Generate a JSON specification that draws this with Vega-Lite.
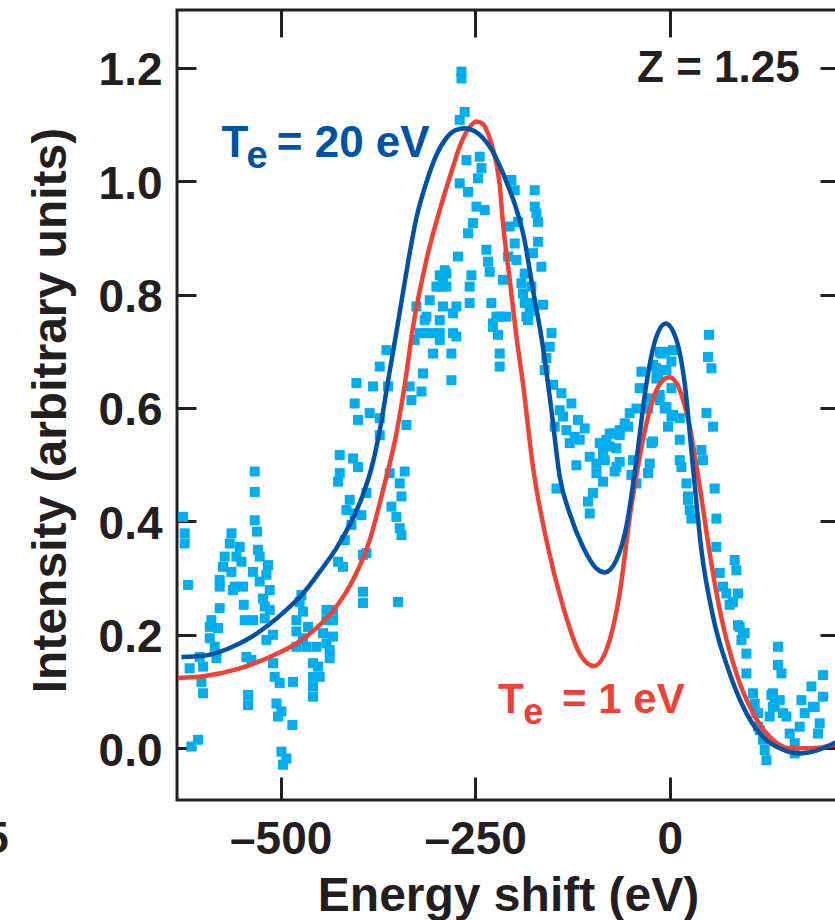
{
  "$schema": "https://vega.github.io/schema/vega-lite/v6.json",
  "width": 662,
  "height": 790,
  "autosize": {"type": "none"},
  "padding": {"left": 177, "top": 10, "right": 0, "bottom": 120},
  "background": "white",
  "config": {
    "view": {"stroke": "#231f20", "strokeWidth": 3},
    "font": "Liberation Sans",
    "axis": {"grid": false, "domain": false, "tickColor": "#231f20", "tickWidth": 3}
  },
  "resolve": {"axis": {"x": "independent", "y": "independent"}},
  "datasets": {
    "points": [
      {"e":-625.6,"i":0.408},{"e":-623.4,"i":0.379},{"e":-623.4,"i":0.361},{"e":-619.1,"i":0.288},{"e":-617,"i":0.141},
      {"e":-604.1,"i":0.161},{"e":-601.9,"i":0.117},{"e":-599.8,"i":0.097},{"e":-614.8,"i":0.003},{"e":-606.3,"i":0.015},
      {"e":-563.3,"i":0.379},{"e":-565.5,"i":0.361},{"e":-552.7,"i":0.355},{"e":-572,"i":0.338},{"e":-556.9,"i":0.338},
      {"e":-550.5,"i":0.329},{"e":-574.1,"i":0.32},{"e":-563.3,"i":0.311},{"e":-578.4,"i":0.297},{"e":-578.4,"i":0.285},
      {"e":-559.1,"i":0.285},{"e":-548.4,"i":0.285},{"e":-561.3,"i":0.279},{"e":-589.1,"i":0.226},{"e":-591.2,"i":0.214},
      {"e":-580.6,"i":0.212},{"e":-578.4,"i":0.247},{"e":-591.2,"i":0.194},{"e":-584.8,"i":0.179},{"e":-582.6,"i":0.159},
      {"e":-599.8,"i":0.144},{"e":-547.5,"i":0.253},{"e":-546.3,"i":0.226},{"e":-535.6,"i":0.226},{"e":-544.1,"i":0.161},
      {"e":-537.6,"i":0.156},{"e":-542,"i":0.094},{"e":-542,"i":0.076},{"e":-533.4,"i":0.488},{"e":-533.4,"i":0.452},
      {"e":-533.4,"i":0.402},{"e":-530.4,"i":0.382},{"e":-529.2,"i":0.35},{"e":-527,"i":0.338},{"e":-535.6,"i":0.311},
      {"e":-527,"i":0.294},{"e":-516.3,"i":0.323},{"e":-518.4,"i":0.306},{"e":-514.1,"i":0.279},{"e":-522.7,"i":0.264},
      {"e":-520.5,"i":0.25},{"e":-514.1,"i":0.244},{"e":-520.5,"i":0.229},{"e":-509.9,"i":0.2},{"e":-518.4,"i":0.191},
      {"e":-509.9,"i":0.15},{"e":-507.7,"i":0.126},{"e":-501.3,"i":0.115},{"e":-505.5,"i":0.079},{"e":-499.1,"i":0.065},
      {"e":-503.4,"i":0.056},{"e":-484.2,"i":0.117},{"e":-485,"i":0.041},{"e":-499.1,"i":-0.006},{"e":-492.7,"i":-0.018},
      {"e":-497,"i":-0.029},{"e":-473.4,"i":0.27},{"e":-475.6,"i":0.258},{"e":-471.3,"i":0.241},{"e":-479.8,"i":0.226},
      {"e":-479.8,"i":0.206},{"e":-464.9,"i":0.214},{"e":-471.3,"i":0.194},{"e":-479.8,"i":0.179},{"e":-467,"i":0.179},
      {"e":-454.1,"i":0.179},{"e":-458.5,"i":0.15},{"e":-452,"i":0.144},{"e":-458.5,"i":0.126},{"e":-449.9,"i":0.126},
      {"e":-458.5,"i":0.109},{"e":-458.5,"i":0.091},{"e":-441.2,"i":0.244},{"e":-432.8,"i":0.244},{"e":-441.2,"i":0.226},
      {"e":-432.8,"i":0.226},{"e":-445.6,"i":0.203},{"e":-432.8,"i":0.197},{"e":-441.2,"i":0.185},{"e":-437,"i":0.173},
      {"e":-437,"i":0.159},{"e":-424.1,"i":0.517},{"e":-424.1,"i":0.485},{"e":-426.3,"i":0.47},{"e":-407,"i":0.511},
      {"e":-400.6,"i":0.496},{"e":-411.3,"i":0.438},{"e":-415.5,"i":0.42},{"e":-404.9,"i":0.414},{"e":-396.3,"i":0.411},
      {"e":-409.1,"i":0.394},{"e":-417.7,"i":0.367},{"e":-426.3,"i":0.329},{"e":-419.9,"i":0.32},{"e":-389.8,"i":0.45},
      {"e":-394.2,"i":0.341},{"e":-394.2,"i":0.276},{"e":-394.2,"i":0.256},{"e":-404.9,"i":0.608},{"e":-400.6,"i":0.579},
      {"e":-385.6,"i":0.591},{"e":-372.7,"i":0.582},{"e":-372.7,"i":0.552},{"e":-402.7,"i":0.644},{"e":-381.3,"i":0.638},
      {"e":-362.1,"i":0.638},{"e":-359.9,"i":0.485},{"e":-347,"i":0.467},{"e":-344.8,"i":0.444},{"e":-357.7,"i":0.426},
      {"e":-351.3,"i":0.408},{"e":-347,"i":0.388},{"e":-344.8,"i":0.376},{"e":-340.6,"i":0.488},{"e":-338.4,"i":0.57},
      {"e":-332,"i":0.614},{"e":-319.1,"i":0.629},{"e":-280.6,"i":0.649},{"e":-389.8,"i":0.344},{"e":-349.2,"i":0.258},
      {"e":-364.1,"i":0.702},{"e":-372.7,"i":0.673},{"e":-334.2,"i":0.638},{"e":-317.1,"i":0.661},{"e":-327.8,"i":0.72},
      {"e":-308.5,"i":0.79},{"e":-295.6,"i":0.814},{"e":-287,"i":0.837},{"e":-291.4,"i":0.82},{"e":-312.7,"i":0.761},
      {"e":-321.3,"i":0.732},{"e":-304.2,"i":0.732},{"e":-295.6,"i":0.72},{"e":-304.2,"i":0.696},{"e":-278.5,"i":0.767},
      {"e":-278.5,"i":0.732},{"e":-280.6,"i":0.696},{"e":-272.1,"i":0.867},{"e":-269.9,"i":0.996},{"e":-269.9,"i":1.108},
      {"e":-267.7,"i":1.193},{"e":-267.7,"i":1.181},{"e":-263.5,"i":1.122},{"e":-261.3,"i":1.037},{"e":-244.2,"i":1.043},
      {"e":-242,"i":1.023},{"e":-259.2,"i":0.981},{"e":-246.4,"i":1.005},{"e":-248.4,"i":0.955},{"e":-237.8,"i":0.949},
      {"e":-252.8,"i":0.926},{"e":-259.2,"i":0.908},{"e":-235.6,"i":0.879},{"e":-233.5,"i":0.858},{"e":-231.4,"i":0.84},
      {"e":-254.9,"i":0.834},{"e":-257.1,"i":0.814},{"e":-295.6,"i":0.834},{"e":-289.2,"i":0.843},{"e":-299.9,"i":0.814},
      {"e":-287,"i":0.814},{"e":-257.1,"i":0.785},{"e":-274.2,"i":0.779},{"e":-291.4,"i":0.779},{"e":-325.6,"i":0.779},
      {"e":-314.9,"i":0.755},{"e":-295.6,"i":0.755},{"e":-229.2,"i":0.785},{"e":-218.5,"i":0.761},{"e":-227.1,"i":0.749},
      {"e":-209.9,"i":0.761},{"e":-274.2,"i":0.726},{"e":-312.7,"i":0.732},{"e":-295.6,"i":0.732},{"e":-214.3,"i":0.826},
      {"e":-207.8,"i":0.867},{"e":-197,"i":0.861},{"e":-199.2,"i":0.89},{"e":-205.6,"i":0.92},{"e":-195,"i":0.928},
      {"e":-203.5,"i":1.002},{"e":-199.2,"i":0.984},{"e":-173.5,"i":0.984},{"e":-173.5,"i":0.955},{"e":-171.3,"i":0.943},
      {"e":-169.3,"i":0.928},{"e":-169.3,"i":0.893},{"e":-175.7,"i":0.873},{"e":-164.9,"i":0.849},{"e":-186.4,"i":0.837},
      {"e":-190.6,"i":0.82},{"e":-177.8,"i":0.814},{"e":-188.6,"i":0.802},{"e":-186.4,"i":0.785},{"e":-162.8,"i":0.782},
      {"e":-179.9,"i":0.77},{"e":-182.1,"i":0.755},{"e":-152,"i":0.732},{"e":-222.7,"i":0.761},{"e":-227.1,"i":0.743},
      {"e":-220.7,"i":0.729},{"e":-218.5,"i":0.696},{"e":-218.5,"i":0.673},{"e":-179.9,"i":0.785},{"e":-184.2,"i":0.761},
      {"e":-154.2,"i":0.708},{"e":-158.5,"i":0.688},{"e":-160.7,"i":0.667},{"e":-150,"i":0.641},{"e":-139.2,"i":0.626},
      {"e":-141.4,"i":0.596},{"e":-126.3,"i":0.608},{"e":-137.1,"i":0.585},{"e":-147.8,"i":0.567},{"e":-132.8,"i":0.561},
      {"e":-117.9,"i":0.579},{"e":-109.3,"i":0.564},{"e":-122.1,"i":0.549},{"e":-128.5,"i":0.538},{"e":-115.7,"i":0.544},
      {"e":-145.6,"i":0.458},{"e":-119.9,"i":0.499},{"e":-102.8,"i":0.514},{"e":-90,"i":0.538},{"e":-77.1,"i":0.555},
      {"e":-64.3,"i":0.552},{"e":-53.6,"i":0.567},{"e":-51.4,"i":0.591},{"e":-94.2,"i":0.502},{"e":-85.7,"i":0.514},
      {"e":-77.1,"i":0.532},{"e":-68.5,"i":0.496},{"e":-94.2,"i":0.485},{"e":-85.7,"i":0.47},{"e":-98.6,"i":0.45},
      {"e":-105,"i":0.435},{"e":-102.8,"i":0.414},{"e":-47.2,"i":0.508},{"e":-49.2,"i":0.482},{"e":-42.8,"i":0.467},
      {"e":-36.4,"i":0.664},{"e":-38.6,"i":0.635},{"e":-29.9,"i":0.599},{"e":-27.9,"i":0.617},{"e":-21.5,"i":0.541},
      {"e":-25.7,"i":0.502},{"e":-27.9,"i":0.485},{"e":-21.5,"i":0.676},{"e":-17.1,"i":0.652},{"e":-10.7,"i":0.696},
      {"e":-6.4,"i":0.667},{"e":-12.9,"i":0.614},{"e":2.2,"i":0.682},{"e":2.2,"i":0.635},{"e":-6.4,"i":0.599},
      {"e":4.2,"i":0.588},{"e":-2.2,"i":0.567},{"e":12.9,"i":0.582},{"e":12.9,"i":0.544},{"e":12.9,"i":0.508},
      {"e":15,"i":0.496},{"e":21.5,"i":0.467},{"e":23.5,"i":0.438},{"e":27.9,"i":0.405},{"e":40.7,"i":0.526},
      {"e":42.8,"i":0.508},{"e":47.2,"i":0.591},{"e":55.7,"i":0.567},{"e":50.5,"i":0.729},{"e":49.2,"i":0.69},
      {"e":53.6,"i":0.67},{"e":57.8,"i":0.458},{"e":60,"i":0.405},{"e":60,"i":0.355},{"e":64.3,"i":0.309},
      {"e":68.5,"i":0.285},{"e":72.9,"i":0.273},{"e":83.5,"i":0.332},{"e":85.7,"i":0.314},{"e":87.8,"i":0.273},
      {"e":81.4,"i":0.258},{"e":90,"i":0.214},{"e":96.4,"i":0.203},{"e":92.2,"i":0.191},{"e":98.6,"i":0.167},
      {"e":98.6,"i":0.132},{"e":107.1,"i":0.097},{"e":109.3,"i":0.079},{"e":113.5,"i":0.062},{"e":115.7,"i":0.032},
      {"e":119.9,"i":0.015},{"e":122.1,"i":-0.003},{"e":124.3,"i":-0.021},{"e":132.8,"i":0.097},{"e":132.8,"i":0.073},
      {"e":141.4,"i":0.085},{"e":145.6,"i":0.062},{"e":139.2,"i":0.179},{"e":139.2,"i":0.147},{"e":143.6,"i":0.132},
      {"e":154.2,"i":0.026},{"e":160.7,"i":0.009},{"e":169.3,"i":0.085},{"e":173.5,"i":0.062},{"e":182.1,"i":0.109},
      {"e":186.4,"i":0.073},{"e":192.8,"i":0.044},{"e":197,"i":0.129},{"e":197,"i":0.091},{"e":77.1,"i":0.253},
      {"e":87.8,"i":0.217},{"e":94.2,"i":0.203},{"e":111.4,"i":0.062},{"e":113.5,"i":0.038},{"e":130.7,"i":0.094},
      {"e":135,"i":0.079},{"e":128.5,"i":0.056},{"e":150,"i":0.056},{"e":160.7,"i":-0.009},{"e":167.1,"i":0.038},
      {"e":184.2,"i":0.073},{"e":190.6,"i":0.026},{"e":-12.9,"i":0.699},{"e":-6.4,"i":0.699},{"e":4.2,"i":0.702},
      {"e":-17.1,"i":0.67},{"e":-4.2,"i":0.667},{"e":-15,"i":0.655},{"e":-12.9,"i":0.623},{"e":-4.2,"i":0.602},
      {"e":2.2,"i":0.585},{"e":-23.5,"i":0.538},{"e":23.5,"i":0.444},{"e":25.7,"i":0.42},{"e":-57.8,"i":0.573},
      {"e":-64.3,"i":0.561},{"e":-72.9,"i":0.555},{"e":-81.4,"i":0.544},{"e":-85.7,"i":0.526},{"e":-68.5,"i":0.529},
      {"e":-64.3,"i":0.505},{"e":-83.5,"i":0.508},{"e":-70.7,"i":0.488},{"e":-42.8,"i":0.599},{"e":-27.9,"i":0.599}
    ],
    "blue": [
      {"e":-627.6,"i":0.161},{"e":-599.8,"i":0.163},{"e":-578.4,"i":0.17},{"e":-557,"i":0.182},{"e":-535.6,"i":0.198},
      {"e":-514.1,"i":0.219},{"e":-492.7,"i":0.244},{"e":-471.3,"i":0.273},{"e":-449.9,"i":0.311},{"e":-428.4,"i":0.353},
      {"e":-407,"i":0.406},{"e":-394.2,"i":0.447},{"e":-381.3,"i":0.505},{"e":-371.4,"i":0.57},{"e":-362.5,"i":0.644},
      {"e":-355.6,"i":0.699},{"e":-347,"i":0.769},{"e":-338.4,"i":0.84},{"e":-325.6,"i":0.935},{"e":-312.7,"i":0.998},
      {"e":-299.9,"i":1.046},{"e":-287,"i":1.076},{"e":-275,"i":1.09},{"e":-263.5,"i":1.093},{"e":-250.6,"i":1.088},
      {"e":-240,"i":1.076},{"e":-228.8,"i":1.055},{"e":-218.5,"i":1.027},{"e":-208.2,"i":0.993},{"e":-197.9,"i":0.954},
      {"e":-187.7,"i":0.903},{"e":-175.7,"i":0.808},{"e":-163.9,"i":0.716},{"e":-152,"i":0.596},{"e":-141.4,"i":0.479},
      {"e":-128.5,"i":0.414},{"e":-111.4,"i":0.355},{"e":-94.2,"i":0.317},{"e":-83.5,"i":0.31},{"e":-68.5,"i":0.332},
      {"e":-55.7,"i":0.391},{"e":-42.8,"i":0.508},{"e":-29.9,"i":0.643},{"e":-17.1,"i":0.726},{"e":-5.1,"i":0.749},
      {"e":8.6,"i":0.72},{"e":19.3,"i":0.643},{"e":29.9,"i":0.496},{"e":40.7,"i":0.35},{"e":55.7,"i":0.232},
      {"e":77.1,"i":0.132},{"e":98.6,"i":0.062},{"e":119.9,"i":0.02},{"e":141.4,"i":0.0},{"e":167.1,"i":-0.009},
      {"e":188.5,"i":-0.004},{"e":217.2,"i":0.013}
    ],
    "red": [
      {"e":-632,"i":0.124},{"e":-599.8,"i":0.127},{"e":-557,"i":0.139},{"e":-514.1,"i":0.161},{"e":-479.8,"i":0.185},
      {"e":-454.1,"i":0.212},{"e":-428.4,"i":0.25},{"e":-407,"i":0.297},{"e":-385.6,"i":0.367},{"e":-368.5,"i":0.455},
      {"e":-351.3,"i":0.555},{"e":-340.6,"i":0.641},{"e":-329.9,"i":0.743},{"e":-312.7,"i":0.861},{"e":-295.6,"i":0.949},
      {"e":-278.5,"i":1.025},{"e":-269.9,"i":1.061},{"e":-259.6,"i":1.09},{"e":-248.4,"i":1.105},{"e":-240.4,"i":1.101},
      {"e":-233.5,"i":1.084},{"e":-227.5,"i":1.058},{"e":-222.7,"i":1.031},{"e":-218.5,"i":0.993},{"e":-214.3,"i":0.926},
      {"e":-205.6,"i":0.826},{"e":-197,"i":0.726},{"e":-188.6,"i":0.643},{"e":-175.7,"i":0.496},{"e":-158.5,"i":0.367},
      {"e":-137.1,"i":0.25},{"e":-115.7,"i":0.167},{"e":-97.3,"i":0.145},{"e":-77.1,"i":0.191},{"e":-64.3,"i":0.273},
      {"e":-51.4,"i":0.408},{"e":-38.6,"i":0.514},{"e":-25.7,"i":0.596},{"e":-10.7,"i":0.646},{"e":0,"i":0.654},
      {"e":12.9,"i":0.632},{"e":25.7,"i":0.567},{"e":38.6,"i":0.461},{"e":51.4,"i":0.344},{"e":64.3,"i":0.244},
      {"e":85.7,"i":0.132},{"e":107.1,"i":0.062},{"e":128.5,"i":0.02},{"e":154.2,"i":0.0},{"e":184.2,"i":0.0},
      {"e":217.2,"i":0.008}
    ]
  },
  "layer": [
    {
      "data": {"name": "points"},
      "mark": {"type": "square", "size": 100, "color": "#00aeef", "opacity": 1, "filled": true},
      "encoding": {
        "x": {
          "field": "e", "type": "quantitative",
          "scale": {"domain": [-633.3, 217.6], "nice": false, "zero": false},
          "axis": {
            "orient": "bottom", "values": [-500, -250, 0], "tickSize": -23,
            "labelFont": "Liberation Sans", "labelFontSize": 46, "labelFontWeight": "bold", "labelColor": "#231f20",
            "labelBaseline": "alphabetic", "labelPadding": 76, "labelFlush": false, "labelOverlap": false,
            "labelExpr": "datum.value < 0 ? '\u2013' + (-datum.value) + '\u00a0\u00a0' : '0'",
            "title": "Energy shift (eV)", "titleFont": "Liberation Sans", "titleFontSize": 48, "titleFontWeight": "bold",
            "titleColor": "#231f20", "titleX": 331, "titleY": 110, "titleBaseline": "alphabetic", "titleAlign": "center"
          }
        },
        "y": {
          "field": "i", "type": "quantitative",
          "scale": {"domain": [-0.0912, 1.3017], "nice": false, "zero": false},
          "axis": {
            "orient": "left", "values": [0, 0.2, 0.4, 0.6, 0.8, 1.0, 1.2], "format": ".1f", "tickSize": -19,
            "labelFont": "Liberation Sans", "labelFontSize": 46, "labelFontWeight": "bold", "labelColor": "#231f20",
            "labelPadding": 34, "labelOffset": 3, "labelFlush": false, "labelOverlap": false,
            "title": "Intensity (arbitrary units)", "titleFont": "Liberation Sans", "titleFontSize": 48, "titleFontWeight": "bold",
            "titleColor": "#231f20", "titleX": -112, "titleY": 400, "titleAngle": -90, "titleBaseline": "alphabetic", "titleAlign": "center"
          }
        }
      }
    },
    {
      "data": {"name": "red"},
      "mark": {"type": "line", "color": "#ef4136", "strokeWidth": 4.5, "interpolate": "monotone"},
      "encoding": {
        "x": {"field": "e", "type": "quantitative", "scale": {"domain": [-633.3, 217.6], "nice": false, "zero": false}, "axis": null},
        "y": {"field": "i", "type": "quantitative", "scale": {"domain": [-0.0912, 1.3017], "nice": false, "zero": false}, "axis": null}
      }
    },
    {
      "data": {"name": "blue"},
      "mark": {"type": "line", "color": "#0053a4", "strokeWidth": 4.5, "interpolate": "monotone"},
      "encoding": {
        "x": {"field": "e", "type": "quantitative", "scale": {"domain": [-633.3, 217.6], "nice": false, "zero": false},
          "axis": {"orient": "top", "values": [-500, -250, 0], "tickSize": -27, "labels": false, "title": null}},
        "y": {"field": "i", "type": "quantitative", "scale": {"domain": [-0.0912, 1.3017], "nice": false, "zero": false},
          "axis": {"orient": "right", "values": [0, 0.2, 0.4, 0.6, 0.8, 1.0, 1.2], "tickSize": -19, "labels": false, "title": null}}
      }
    },
    {
      "data": {"values": [{"e": -576.2, "i": 1.043, "t": "T"}, {"e": -220.7, "i": 0.0617, "t": "T"}]},
      "transform": [{"filter": "datum.i > 0.5"}],
      "mark": {"type": "text", "align": "left", "baseline": "alphabetic", "fontSize": 44, "fontWeight": "bold", "font": "Liberation Sans", "color": "#0053a4"},
      "encoding": {
        "x": {"field": "e", "type": "quantitative", "scale": {"domain": [-633.3, 217.6], "nice": false, "zero": false}, "axis": null},
        "y": {"field": "i", "type": "quantitative", "scale": {"domain": [-0.0912, 1.3017], "nice": false, "zero": false}, "axis": null},
        "text": {"field": "t"}
      }
    },
    {
      "data": {"values": [{"e": -544.0, "i": 1.024, "t": "e"}]},
      "mark": {"type": "text", "align": "left", "baseline": "alphabetic", "fontSize": 38, "fontWeight": "bold", "font": "Liberation Sans", "color": "#0053a4"},
      "encoding": {
        "x": {"field": "e", "type": "quantitative", "scale": {"domain": [-633.3, 217.6], "nice": false, "zero": false}, "axis": null},
        "y": {"field": "i", "type": "quantitative", "scale": {"domain": [-0.0912, 1.3017], "nice": false, "zero": false}, "axis": null},
        "text": {"field": "t"}
      }
    },
    {
      "data": {"values": [{"e": -308.5, "i": 1.043, "t": "= 20 eV"}]},
      "mark": {"type": "text", "align": "right", "baseline": "alphabetic", "fontSize": 44, "fontWeight": "bold", "font": "Liberation Sans", "color": "#0053a4"},
      "encoding": {
        "x": {"field": "e", "type": "quantitative", "scale": {"domain": [-633.3, 217.6], "nice": false, "zero": false}, "axis": null},
        "y": {"field": "i", "type": "quantitative", "scale": {"domain": [-0.0912, 1.3017], "nice": false, "zero": false}, "axis": null},
        "text": {"field": "t"}
      }
    },
    {
      "data": {"values": [{"e": -220.7, "i": 0.0617, "t": "T"}]},
      "mark": {"type": "text", "align": "left", "baseline": "alphabetic", "fontSize": 42, "fontWeight": "bold", "font": "Liberation Sans", "color": "#ef4136"},
      "encoding": {
        "x": {"field": "e", "type": "quantitative", "scale": {"domain": [-633.3, 217.6], "nice": false, "zero": false}, "axis": null},
        "y": {"field": "i", "type": "quantitative", "scale": {"domain": [-0.0912, 1.3017], "nice": false, "zero": false}, "axis": null},
        "text": {"field": "t"}
      }
    },
    {
      "data": {"values": [{"e": -188.3, "i": 0.043, "t": "e"}]},
      "mark": {"type": "text", "align": "left", "baseline": "alphabetic", "fontSize": 36, "fontWeight": "bold", "font": "Liberation Sans", "color": "#ef4136"},
      "encoding": {
        "x": {"field": "e", "type": "quantitative", "scale": {"domain": [-633.3, 217.6], "nice": false, "zero": false}, "axis": null},
        "y": {"field": "i", "type": "quantitative", "scale": {"domain": [-0.0912, 1.3017], "nice": false, "zero": false}, "axis": null},
        "text": {"field": "t"}
      }
    },
    {
      "data": {"values": [{"e": 19.3, "i": 0.0617, "t": "= 1 eV"}]},
      "mark": {"type": "text", "align": "right", "baseline": "alphabetic", "fontSize": 42, "fontWeight": "bold", "font": "Liberation Sans", "color": "#ef4136"},
      "encoding": {
        "x": {"field": "e", "type": "quantitative", "scale": {"domain": [-633.3, 217.6], "nice": false, "zero": false}, "axis": null},
        "y": {"field": "i", "type": "quantitative", "scale": {"domain": [-0.0912, 1.3017], "nice": false, "zero": false}, "axis": null},
        "text": {"field": "t"}
      }
    },
    {
      "data": {"values": [{"e": 167.1, "i": 1.175, "t": "Z = 1.25"}, {"e": -849.6, "i": -0.1846, "t": "5"}]},
      "mark": {"type": "text", "align": "right", "baseline": "alphabetic", "fontSize": 44, "fontWeight": "bold", "font": "Liberation Sans", "color": "#231f20"},
      "encoding": {
        "x": {"field": "e", "type": "quantitative", "scale": {"domain": [-633.3, 217.6], "nice": false, "zero": false}, "axis": null},
        "y": {"field": "i", "type": "quantitative", "scale": {"domain": [-0.0912, 1.3017], "nice": false, "zero": false}, "axis": null},
        "text": {"field": "t"}
      }
    }
  ]
}
